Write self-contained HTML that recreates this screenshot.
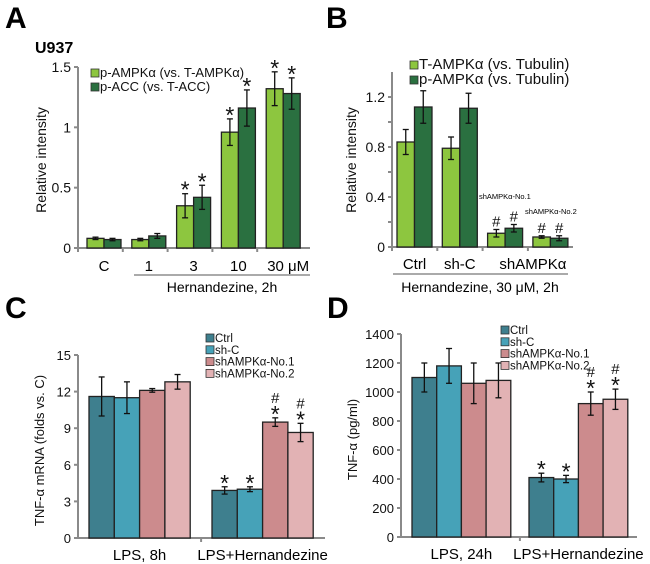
<!DOCTYPE html>
<html><head><meta charset="utf-8"><style>
body{margin:0;background:#fff}
svg{display:block;font-family:"Liberation Sans",Arial,sans-serif}
</style></head><body>
<svg id="fig" width="650" height="564"></svg>
<script>
// Panel A data
const aCats=["C","1","3","10","30 μM"];
const aLight=[0.08,0.07,0.35,0.96,1.32];
const aLightErr=[0.01,0.01,0.10,0.11,0.14];
const aDark=[0.07,0.10,0.42,1.16,1.28];
const aDarkErr=[0.01,0.02,0.10,0.15,0.13];
const aTicks=[0,0.5,1,1.5];
const aTickLabels=["0","0.5","1","1.5"];
// Panel B data
const bCats=["Ctrl","sh-C","shAMPKα",""];
const bLight=[0.84,0.79,0.11,0.08];
const bLightErr=[0.10,0.09,0.03,0.01];
const bDark=[1.12,1.11,0.15,0.07];
const bDarkErr=[0.13,0.12,0.03,0.02];
const bTicks=[0,0.4,0.8,1.2];
// Panel C data
const cGroups=["LPS, 8h","LPS+Hernandezine"];
const cSeries=["Ctrl","sh-C","shAMPKα-No.1","shAMPKα-No.2"];
const cVals=[[11.6,11.5,12.1,12.8],[3.9,4.0,9.5,8.65]];
const cErr=[[1.6,1.3,0.15,0.6],[0.3,0.2,0.35,0.75]];
const cTicks=[0,3,6,9,12,15];
// Panel D data
const dGroups=["LPS, 24h","LPS+Hernandezine"];
const dVals=[[1100,1180,1060,1080],[410,400,920,950]];
const dErr=[[100,120,140,120],[30,25,80,70]];
const dTicks=[0,200,400,600,800,1000,1200,1400];

const svg=document.getElementById('fig');
const NS="http://www.w3.org/2000/svg";
function el(tag,attrs,parent,text){const e=document.createElementNS(NS,tag);for(const k in attrs)e.setAttribute(k,attrs[k]);if(text!==undefined)e.textContent=text;(parent||svg).appendChild(e);return e;}
const AX="#8a8a8a";
const greens=["#8dc63f","#2a7040"];
const pal=["#3e7f8e","#46a2b8","#cc8b8d","#e2b2b4"];

function axes(g,x0,y0,x1,yTop){
  const a=el('line',{x1:x0,y1:y0,x2:x1,y2:y0,stroke:AX,'stroke-width':2},g);
  
  const b=el('line',{x1:x0,y1:y0,x2:x0,y2:yTop,stroke:AX,'stroke-width':2},g);
  
}
function yTicks(g,x0,ticks,ys,fs,lab){
  ticks.forEach((t,i)=>{
    const y=ys(t);
    el('line',{x1:x0-4,y1:y,x2:x0,y2:y,stroke:AX,'stroke-width':2},g);
    const tx=el('text',{x:x0-7,y:y+5,'text-anchor':'end','font-size':fs,fill:'#111'},g,lab?lab[i]:String(t));
    
  });
}
function bar(g,x,w,y0,yv,ytopErr,ybotErr,fill,name){
  const r=el('rect',{x:x,y:yv,width:w,height:y0-yv,fill:fill,stroke:'#222','stroke-width':1.3},g);
  
  const cx=x+w/2;
  el('line',{x1:cx,y1:ytopErr,x2:cx,y2:ybotErr,stroke:'#111','stroke-width':1.3},g);
  el('line',{x1:cx-3,y1:ytopErr,x2:cx+3,y2:ytopErr,stroke:'#111','stroke-width':1.3},g);
  el('line',{x1:cx-3,y1:ybotErr,x2:cx+3,y2:ybotErr,stroke:'#111','stroke-width':1.3},g);
}
function mark(g,x,y,s,fs){const t=el('text',{x:x,y:y,'text-anchor':'middle','font-size':fs||23,fill:'#111'},g,s);return t;}
function letter(x,y,s){const t=el('text',{x:x,y:y,'font-size':30,'font-weight':'bold',fill:'#000'},svg,s);}
function legendEntry(g,x,y,color,label,fs,sq){
  const r=el('rect',{x:x,y:y-sq+1,width:sq,height:sq,fill:color,stroke:'#333','stroke-width':0.8},g);
  
  const t=el('text',{x:x+sq+1,y:y+1,'font-size':fs,fill:'#111'},g,label);
  
}
function ytitle(g,x,y,s,fs){const t=el('text',{x:x,y:y,'text-anchor':'middle','font-size':fs,fill:'#111',transform:`rotate(-90 ${x} ${y})`},g,s);}

// ===== Panel A =====
(function(){
  const g=el('g',{});
  letter(5,28,"A");
  const u=el('text',{x:35,y:53,'font-size':16,'font-weight':'bold'},g,"U937");
  const x0=78,y0=248,yTop=67,x1=310;
  const ys=v=>y0-v/1.5*(y0-yTop);
  axes(g,x0,y0,x1,yTop);
  yTicks(g,x0,aTicks,ys,14,aTickLabels);
  const gw=44.8,bw=17;
  aCats.forEach((c,i)=>{
    const gx=87+i*gw;
    bar(g,gx,bw,y0,ys(aLight[i]),ys(aLight[i]+aLightErr[i]),ys(aLight[i]-aLightErr[i]),greens[0],'bar-light-'+i);
    bar(g,gx+bw,bw,y0,ys(aDark[i]),ys(aDark[i]+aDarkErr[i]),ys(aDark[i]-aDarkErr[i]),greens[1],'bar-dark-'+i);
    el('line',{x1:x0+i*gw,y1:y0,x2:x0+i*gw,y2:y0+4,stroke:AX,'stroke-width':2},g);
    const t=el('text',{x:gx+bw+(i==4?5:0),y:y0+23,'text-anchor':'middle','font-size':15},g,c);
    if(i>=2){mark(g,gx+bw/2,ys(aLight[i]+aLightErr[i])+4,"*");mark(g,gx+bw*1.5,ys(aDark[i]+aDarkErr[i])+4,"*");}
  });
  el('line',{x1:134,y1:275,x2:310,y2:275,stroke:'#555','stroke-width':1},g);
  const h=el('text',{x:222,y:292,'text-anchor':'middle','font-size':14},g,"Hernandezine, 2h");
  ytitle(g,46,160,"Relative intensity",14);
  legendEntry(g,91,76,greens[0],"p-AMPKα (vs. T-AMPKα)",13,8);
  legendEntry(g,91,90,greens[1],"p-ACC (vs. T-ACC)",13,8);
})();

// ===== Panel B =====
(function(){
  const g=el('g',{});
  letter(326,28,"B");
  const x0=392,y0=247,yTop=72,x1=573;
  const ys=v=>y0-v/1.4*(y0-yTop);
  axes(g,x0,y0,x1,yTop);
  [0.2,0.6,1.0].forEach(v=>el('line',{x1:x0-4,y1:ys(v),x2:x0,y2:ys(v),stroke:AX,'stroke-width':2},g));
  yTicks(g,x0,bTicks,ys,14,["0","0.4","0.8","1.2"]);
  const gw=45.3,bw=17.5;
  bCats.forEach((c,i)=>{
    const gx=397+i*gw;
    bar(g,gx,bw,y0,ys(bLight[i]),ys(bLight[i]+bLightErr[i]),ys(bLight[i]-bLightErr[i]),greens[0],'bar-light-'+i);
    bar(g,gx+bw,bw,y0,ys(bDark[i]),ys(bDark[i]+bDarkErr[i]),ys(bDark[i]-bDarkErr[i]),greens[1],'bar-dark-'+i);
    el('line',{x1:x0+i*gw,y1:y0,x2:x0+i*gw,y2:y0+4,stroke:AX,'stroke-width':2},g);
    if(c){const t=el('text',{x:i==2?gx+gw:gx+bw,y:y0+22,'text-anchor':'middle','font-size':15},g,c);}
    if(i>=2){mark(g,gx+bw/2,ys(bLight[i]+bLightErr[i])-3,"#",15);mark(g,gx+bw*1.5,ys(bDark[i]+bDarkErr[i])-3,"#",15);}
  });
  const s1=el('text',{x:479,y:199,'font-size':7.5},g,"shAMPKα-No.1");
  const s2=el('text',{x:525,y:214,'font-size':7.5},g,"shAMPKα-No.2");
  el('line',{x1:393,y1:274,x2:568,y2:274,stroke:'#555','stroke-width':1},g);
  const h=el('text',{x:480,y:292,'text-anchor':'middle','font-size':14},g,"Hernandezine, 30 μM, 2h");
  ytitle(g,356,160,"Relative intensity",14);
  legendEntry(g,410,68,greens[0],"T-AMPKα (vs. Tubulin)",15,8);
  legendEntry(g,410,83,greens[1],"p-AMPKα (vs. Tubulin)",15,8);
})();

// ===== Panels C & D =====
function groupedPanel(name,L,x0,y0,yTop,x1,maxV,ticks,groups,vals,errs,g1x,g2x,bw,legX,legY,titleX,titleS,fs){
  const g=el('g',{});
  letter(L[1],318,L[0]);
  const ys=v=>y0-v/maxV*(y0-yTop);
  axes(g,x0,y0,x1,yTop);
  yTicks(g,x0,ticks,ys,fs);
  const starts=[g1x,g2x];
  groups.forEach((gn,gi)=>{
    vals[gi].forEach((v,si)=>{
      const x=starts[gi]+si*bw,e=errs[gi][si];
      bar(g,x,bw,y0,ys(v),ys(v+e),ys(v-e),pal[si],'bar-'+gi+'-'+si);
      if(gi==1){
        if(si<2)mark(g,x+bw/2,ys(v+e)+4,"*");
        else{mark(g,x+bw/2,ys(v+e)+4,"*");mark(g,x+bw/2,ys(v+e)-15,"#",15);}
      }
    });
    const t=el('text',{x:starts[gi]+2*bw,y:y0+22,'text-anchor':'middle','font-size':15},g,gn);
  });
  el('line',{x1:(starts[0]+4*bw+starts[1])/2,y1:y0,x2:(starts[0]+4*bw+starts[1])/2,y2:y0+4,stroke:AX,'stroke-width':2},g);
  ytitle(g,titleX,(y0+yTop)/2+4,titleS,13);
  cSeries.forEach((s,i)=>legendEntry(g,legX,legY+i*11.8,pal[i],s,11.5,8));
}
groupedPanel('panel-c',["C",5],78,538,355,325,15,cTicks,cGroups,cVals,cErr,89,212,25.3,206,341,44,"TNF-α mRNA (folds vs. C)",13);
groupedPanel('panel-d',["D",327],401,537,334,637,1400,dTicks,dGroups,dVals,dErr,412,529,24.7,501,333,357,"TNF-α (pg/ml)",13);
</script>
</body></html>
